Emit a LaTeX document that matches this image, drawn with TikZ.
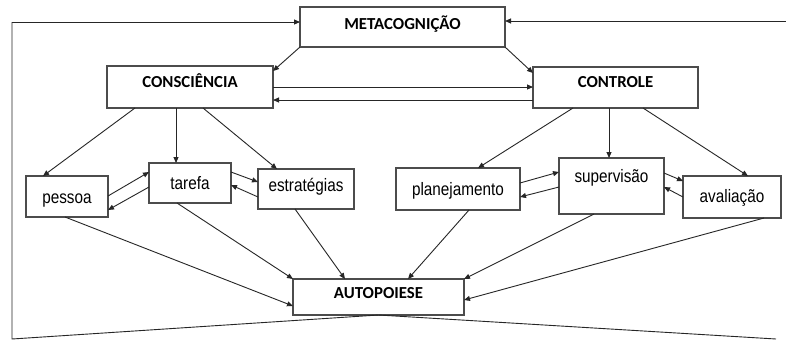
\documentclass[tikz,border=0pt]{standalone}
\usepackage{fontspec}
\setmainfont{Liberation Sans}
\newfontfamily\capsfont{Carlito}
\newfontfamily\lcfont[FakeStretch=0.85]{Liberation Sans}
\usetikzlibrary{arrows.meta}
\begin{document}
\begin{tikzpicture}[x=1pt,y=-1pt,
  box/.style={draw=black!70, line width=1.2pt, fill=white, rectangle, inner sep=0pt, outer sep=0pt},
  capsbox/.style={box, font=\capsfont\bfseries\fontsize{16.8}{18}\selectfont},
  lcbox/.style={box, font=\lcfont\fontsize{18}{20}\selectfont},
  arr/.style={draw=black!85, line width=0.9pt, -{Triangle[length=6pt,width=5pt]}},
  ln/.style={draw=black!85, line width=0.9pt}]
\useasboundingbox (0,0) rectangle (786,341);
\fill[white] (0,0) rectangle (786,341);

% boxes
\node[capsbox, minimum width=205pt, minimum height=40pt, text height=4pt, text depth=0pt] (meta) at (402.5,27) {METACOGNIÇÃO\hspace{5pt}};
\node[capsbox, minimum width=166pt, minimum height=42pt, text height=0pt, text depth=0pt] (consc) at (190,87) {CONSCIÊNCIA\hspace{3pt}};
\node[capsbox, minimum width=165pt, minimum height=41pt, text height=0pt, text depth=1pt] (contr) at (615.5,87.5) {CONTROLE};
\node[capsbox, minimum width=171pt, minimum height=36pt, text height=2pt, text depth=0pt] (auto) at (378.5,297) {AUTOPOIESE};

\node[lcbox, minimum width=82pt, minimum height=41pt, text height=13pt, text depth=0pt] (pess) at (67,196.5) {pessoa\hspace{5pt}};
\node[lcbox, minimum width=82pt, minimum height=40pt, text height=12.6pt, text depth=0pt] (taref) at (190,183) {tarefa\hspace{10pt}};
\node[lcbox, minimum width=96pt, minimum height=40pt, text height=5.4pt, text depth=0pt] (estr) at (306,189) {estratégias};
\node[lcbox, minimum width=124pt, minimum height=42pt, text height=12pt, text depth=0pt] (plan) at (458,189) {planejamento\hspace{10pt}};
\node[lcbox, minimum width=105pt, minimum height=56pt, text height=0pt, text depth=7.4pt] (superv) at (611.5,186) {supervisão\hspace{3pt}};
\node[lcbox, minimum width=98pt, minimum height=42pt, text height=10.6pt, text depth=0pt] (aval) at (732,197) {avaliação\hspace{7pt}};

% outer loop
\coordinate (bl) at (12,339);
\coordinate (tl) at (12,22);
\coordinate (br) at (776,339);
\coordinate (tr) at (786,21);
\draw[ln] (auto.south) -- (bl) -- (tl);
\draw[arr] (tl) -- (tl -| meta.west);
\draw[ln] (auto.south) -- (br);
\draw[arr] (tr) -- (tr -| meta.east);

% metacognicao to second level
\draw[arr] (meta.south west) -- ([yshift=-5pt]consc.north east);
\draw[arr] (meta.south east) -- ([yshift=-6pt]contr.north west);

% between conscience and control
\draw[arr] (consc.east) -- (consc.east -| contr.west);
\draw[arr] ([yshift=-13pt]consc.east -| contr.west) -- ([yshift=-13pt]consc.east);

% conscience to children
\draw[arr] ([xshift=-55pt]consc.south) -- ([xshift=-24pt]pess.north);
\draw[arr] ([xshift=-14pt]consc.south) -- ([xshift=-14pt]taref.north);
\draw[arr] ([xshift=13pt]consc.south) -- ([xshift=-29pt]estr.north);

% control to children
\draw[arr] ([xshift=-42.5pt]contr.south) -- ([xshift=20pt]plan.north);
\draw[arr] ([xshift=-6.5pt]contr.south) -- ([xshift=-2.5pt]superv.north);
\draw[arr] ([xshift=27.5pt]contr.south) -- ([xshift=16pt]aval.north);

% lateral exchanges
\draw[arr] ([yshift=0.5pt]pess.east) -- ([yshift=11pt]taref.west);
\draw[arr] ([yshift=-4pt]taref.west) -- ([yshift=-13.5pt]pess.east);
\draw[arr] ([yshift=11pt]taref.east) -- ([yshift=7pt]estr.west);
\draw[arr] ([yshift=-8pt]estr.west) -- ([yshift=-2pt]taref.east);

\draw[arr] ([yshift=6pt]plan.east) -- ([yshift=14pt]superv.west);
\draw[arr] ([yshift=-1pt]superv.west) -- ([yshift=-8pt]plan.east);
\draw[arr] ([yshift=13pt]superv.east) -- ([yshift=16pt]aval.west);
\draw[arr] (aval.west) -- ([yshift=-1pt]superv.east);

% to autopoiese
\draw[arr] ([xshift=-2pt]pess.south) -- ([yshift=-9pt]auto.west);
\draw[arr] ([xshift=-13pt]taref.south) -- (auto.north west);
\draw[arr] ([xshift=-11pt]estr.south) -- ([xshift=-33.5pt]auto.north);
\draw[arr] ([xshift=11pt]plan.south) -- ([xshift=29.5pt]auto.north);
\draw[arr] ([xshift=-17.5pt]superv.south) -- (auto.north east);
\draw[arr] ([xshift=32pt]aval.south) -- ([yshift=-3pt]auto.east);
\end{tikzpicture}
\end{document}
